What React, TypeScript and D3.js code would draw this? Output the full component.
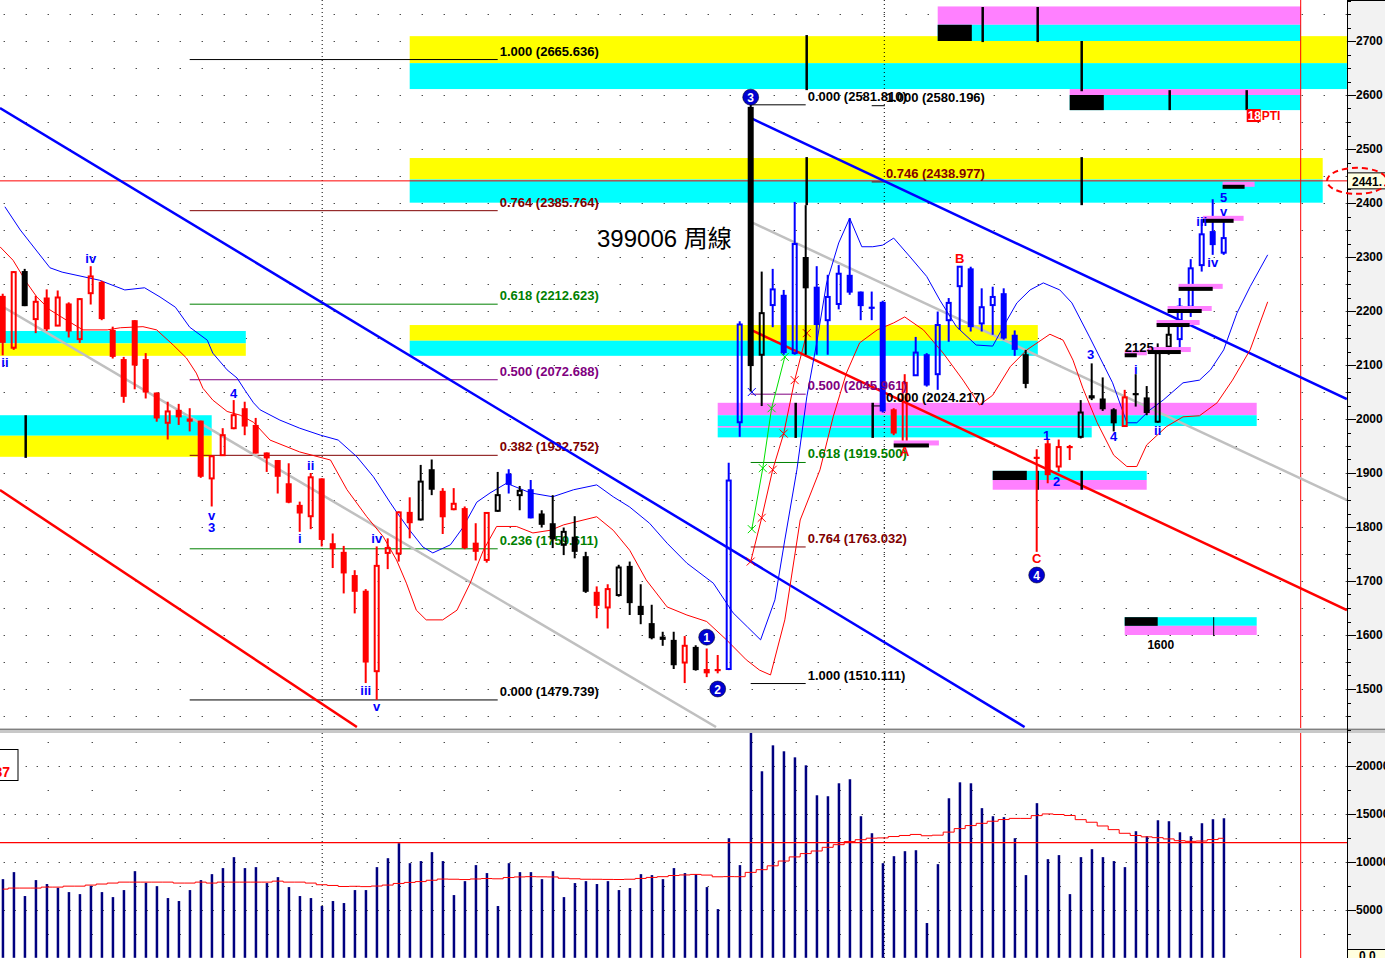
import React from "react";
import * as d3 from "d3";

// ---------- DATA (weekly bars, index 0..111) ----------
const opens = [2228,2132,2274,2185,2225,2173,2214,2148,2233,2254,2165,2111,2183,2111,2049,1993,2017,2001,1997,1890,1933,1983,2020,1989,1938,1924,1881,1841,1820,1890,1770,1754,1711,1682,1533,1752,1751,1828,1814,1907,1867,1833,1835,1771,1739,1830,1899,1859,1870,1825,1807,1767,1782,1746,1680,1651,1674,1728,1654,1622,1597,1591,1549,1578,1537,1537,1537,1994,2578,2119,2211,2230,2122,2300,2245,2183,2213,2267,2236,2208,2217,2018,1954,2081,2120,2083,2183,2246,2279,2177,2211,2233,2156,2120,1930,1955,1912,1950,1967,2044,2038,2018,1987,2048,2040,1995,2134,2148,2208,2285,2348,2308];
const highs = [2232,2274,2278,2228,2240,2238,2216,2224,2283,2256,2171,2115,2183,2122,2049,2032,2028,2020,1997,1931,1983,2035,2032,2002,1938,1924,1918,1847,1900,1890,1788,1765,1720,1685,1764,1779,1829,1855,1915,1925,1872,1872,1838,1807,1827,1902,1907,1876,1887,1831,1859,1799,1820,1754,1690,1694,1730,1736,1694,1656,1606,1606,1598,1581,1575,1563,1919,2181,2582,2273,2278,2239,2402,2396,2283,2267,2285,2372,2236,2236,2219,2020,2083,2152,2122,2199,2224,2283,2282,2242,2245,2242,2164,2128,1944,1961,1962,1952,2035,2103,2077,2020,2054,2083,2061,2140,2178,2224,2296,2370,2407,2372];
const lows = [2118,2128,2209,2159,2163,2172,2151,2141,2212,2183,2112,2030,2055,2038,1995,1962,1989,1977,1891,1838,1933,1981,1970,1936,1902,1862,1844,1791,1796,1764,1724,1677,1640,1511,1480,1722,1736,1779,1812,1859,1787,1831,1759,1738,1734,1828,1862,1831,1816,1799,1761,1748,1742,1678,1631,1612,1671,1637,1620,1592,1580,1537,1511,1534,1522,1529,1535,1967,2051,2024,2170,2119,2119,2119,2119,2119,2203,2230,2183,2183,2012,1970,1950,2080,2060,2054,2143,2165,2162,2162,2156,2147,2117,2057,1754,1881,1902,1924,1964,2035,2015,1977,1986,2023,2007,1993,2119,2128,2189,2273,2304,2304];
const closes = [2141,2272,2209,2217,2166,2225,2162,2222,2264,2185,2115,2041,2099,2049,2001,2014,2003,1995,1893,1931,1970,2007,1986,1936,1927,1893,1845,1825,1892,1776,1759,1714,1680,1549,1728,1761,1827,1807,1884,1869,1818,1843,1761,1754,1826,1859,1878,1867,1816,1804,1777,1791,1754,1680,1654,1685,1725,1659,1637,1594,1591,1544,1580,1535,1529,1533,1886,2175,2098,2196,2240,2122,2324,2242,2174,2226,2269,2234,2209,2204,2014,1973,2067,2123,2062,2174,2215,2282,2170,2207,2226,2149,2128,2065,1926,1896,1948,1946,2012,2038,2018,1992,2040,2044,2011,2122,2156,2208,2279,2342,2322,2335];
const candleColor = ("rrkrrrrrrr" + "rrrrrrrrrr" + "rrrrrrrrrr" + "rrrrrrrrkk" + "rrrrrkbkbk" +
  "kkkkrrkkkk" + "kkrkrrbbkk" + "bbbkbbbbbb" + "brrbbbbbbb" + "bbbkrrrrkk" + "kkrkkkkbbb" + "bb").split("");

const volumes = [8190,8920,6430,8090,7680,7290,6840,6630,7500,6840,6320,7050,9020,7810,7460,6220,5910,7050,8090,8710,9340,10480,9340,9440,7780,8400,7360,6430,6220,5390,5910,5700,7050,7050,9440,10370,11930,9850,10070,11000,10070,6530,7980,9650,8820,5390,9850,8920,8920,8190,9020,6320,7780,7980,7680,7980,7050,7260,8710,8610,8190,9340,8820,8710,7360,5070,12450,9650,23500,19420,22120,21500,20870,20040,16920,16820,18170,18590,14740,12970,9850,10580,11100,11200,3620,9750,16610,18270,18170,15580,14740,14640,12450,8610,16100,10270,10690,6630,10480,11310,10480,10070,9440,13180,12660,14320,14220,13070,12660,14010,14430,14530];
// 30-week volume average as read for the first weeks (earlier data not on the chart)
const volMaHead = [7150,7260,7260,7260,7360,7360,7460,7460,7570,7680,7780,7880,7880,7880,7880,7880,7780,7780,7880,7780,7880,7880,7880,7880,7880,7980,7880,7880,7780];
const volRefLevel = 12000;

// displaced envelope lines, read as [week, price]
const blueBandPts = [[0.2,2393],[1.6,2350],[4.3,2280],[5.4,2272],[8.8,2257],[11.1,2239],[12.9,2243],[14.3,2226],[15.7,2207],[17,2170],[18.6,2146],[19.1,2122],[20.4,2091],[21.3,2076],[22,2054],[22.8,2030],[23.4,2017],[25.2,1998],[27,1983],[28.9,1970],[30.5,1961],[32.2,1930],[33.7,1893],[35.2,1846],[35.8,1828],[37,1794],[38.2,1763],[39.1,1752],[40.7,1767],[41.8,1798],[43.1,1846],[44.3,1863],[45.8,1881],[48,1863],[50,1856],[51.9,1869],[54,1878],[55.5,1856],[57,1837],[58.8,1807],[60.4,1770],[62.2,1733],[64.6,1696],[66.4,1641],[67.7,1615],[68.9,1591],[70.2,1665],[71.1,1776],[72.2,1906],[73.1,2041],[74,2141],[74.9,2252],[76,2326],[77,2372],[78.1,2319],[79.1,2319],[80,2322],[81,2335],[82.5,2300],[84,2264],[85.2,2220],[86.7,2171],[88.5,2137],[90,2135],[91.3,2183],[92.2,2215],[93.4,2239],[94.6,2252],[96.1,2239],[97.2,2215],[98.8,2152],[100.9,2067],[102.2,1993],[103.1,1993],[104.3,2017],[105.5,2035],[107.3,2067],[108.8,2072],[109.8,2091],[111,2128],[112.2,2196],[113.4,2245],[115,2304]];
const redBandPts = [[-0.25,2319],[0.94,2294],[2.2,2252],[3.1,2226],[4.3,2202],[5.8,2183],[7.3,2165],[9.5,2165],[10.7,2169],[12.75,2171],[14,2165],[15.5,2137],[16.7,2113],[17.6,2085],[18.2,2057],[19.1,2035],[20.4,2014],[21.6,2007],[22.8,1994],[24.3,1961],[27,1939],[29.8,1924],[31.3,1869],[33.1,1819],[34.6,1782],[35.8,1739],[36.7,1696],[37.6,1646],[38.5,1628],[40,1628],[41.3,1646],[42.5,1696],[43.7,1757],[44.9,1801],[46.7,1801],[48.2,1789],[49.8,1794],[51,1804],[54,1819],[55.5,1794],[57,1757],[58.5,1702],[60.4,1652],[62.2,1637],[64,1625],[65.8,1591],[67.6,1554],[68.8,1535],[69.8,1526],[71.1,1628],[72.5,1813],[74.3,1906],[75.5,2004],[76.7,2085],[77.9,2141],[79.5,2165],[81,2178],[82,2189],[83.7,2165],[85.5,2122],[87.3,2072],[88.8,2026],[90,2044],[91.6,2097],[93.1,2128],[95.2,2157],[96.4,2146],[97.3,2109],[98.2,2057],[99.5,1993],[101,1933],[102.2,1912],[103.1,1912],[104,1952],[105.8,1986],[107.3,2004],[108.8,2006],[110.4,2030],[111.8,2072],[113.4,2128],[115,2217]];

// trend lines [week0, price0, week1, price1, colour]
const trendLines = [
  [-0.25, 2576, 92.9, 1429.6, "#0000ff"],
  [68.03, 2557, 122.2, 2037, "#0000ff"],
  [-0.25, 1868.5, 32.2, 1429.6, "#ff0000"],
  [68.03, 2165, 122.2, 1646, "#ff0000"],
  [-0.25, 2211, 64.85, 1429.6, "#c0c0c0"],
  [68.2, 2363, 122.2, 1850, "#c0c0c0"],
];

// fibonacci sets
const fibLeftRatios = ["1.000","0.764","0.618","0.500","0.382","0.236","0.000"];
const fibLeftValues = [2665.636,2385.764,2212.623,2072.688,1932.752,1759.611,1479.739];
const fibLeftColors = ["#000000","#800000","#008000","#800080","#800000","#008000","#000000"];
const fibMidRatios = ["0.000","0.500","0.618","0.764","1.000"];
const fibMidValues = [2581.81,2045.961,1919.5,1763.032,1510.111];
const fibMidColors = ["#000000","#800080","#008000","#800000","#000000"];
const fibProjRatios = ["1.000","0.746","0.000"];
const fibProjValues = [2580.196,2438.977,2024.217];
const fibProjColors = ["#000000","#800000","#000000"];

// zone bands [week0, week1, priceTop, priceBottom, colour]
const zoneBands = [
  [37, 122.2, 2709, 2659, "#ffff00"], [37, 122.2, 2659, 2611, "#00ffff"],
  [85, 118, 2764, 2730, "#ff80ff"], [85, 118, 2730, 2700, "#00ffff"], [85, 88.1, 2730, 2700, "#000000"],
  [97, 118, 2611, 2600, "#ff80ff"], [97, 118, 2600, 2572, "#00ffff"], [97, 100.1, 2600, 2572, "#000000"],
  [37, 120, 2483.3, 2443.5, "#ffff00"], [37, 120, 2443.5, 2400.6, "#00ffff"],
  [37, 94.1, 2174, 2145, "#ffff00"], [37, 94.1, 2145, 2117, "#00ffff"],
  [-1, 22.1, 2163, 2140, "#00ffff"], [-1, 22.1, 2140, 2117, "#ffff00"],
  [-1, 19, 2007, 1969, "#00ffff"], [-1, 19, 1969, 1930, "#ffff00"],
  [65, 114, 2030, 2007, "#ff80ff"], [65, 114, 2007, 1987, "#00ffff"],
  [65, 99, 1987, 1984, "#ff80ff"], [65, 99, 1984, 1966, "#00ffff"],
  [90, 104, 1904, 1887, "#00ffff"], [90, 104, 1887, 1869, "#ff80ff"], [90, 93.1, 1904, 1887, "#000000"],
  [102, 114, 1633, 1617, "#00ffff"], [102, 114, 1617, 1600, "#ff80ff"], [102, 105, 1633, 1617, "#000000"],
];
// black time markers [week, priceTop, priceBottom]
const markerBars = [
  [73, 2711, 2609], [73, 2485, 2396], [98, 2700, 2607], [98, 2485, 2396],
  [89, 2763, 2698], [94, 2763, 2698], [106, 2609, 2572], [113, 2609, 2572],
  [2, 2007, 1928], [72, 2030, 1965], [79, 2030, 1965], [94, 1904, 1869], [98, 1904, 1869],
];
// black step bars with pink shadow [week0, week1, price]
const levelBars = [
  [81.0, 84.2, 1951], [102, 103.1, 2118], [104.1, 107.1, 2124], [104.9, 107.9, 2174],
  [105.9, 109, 2200], [106.9, 110, 2241], [109.1, 111.9, 2367], [110.9, 112.9, 2430],
];

// wave labels [text, week, price, colour]
const waveLabels = [
  ["ii", 0.2, 2105, "#0000ff"], ["iv", 8, 2298, "#0000ff"], ["4", 21, 2048, "#0000ff"],
  ["v", 19, 1822, "#0000ff"], ["3", 19, 1800, "#0000ff"], ["ii", 28, 1913, "#0000ff"],
  ["i", 27, 1778, "#0000ff"], ["iv", 34, 1778, "#0000ff"], ["iii", 33, 1498, "#0000ff"],
  ["v", 34, 1467, "#0000ff"], ["1", 94.9, 1970, "#0000ff"], ["2", 95.8, 1885, "#0000ff"],
  ["3", 98.9, 2119, "#0000ff"], ["4", 101, 1967, "#0000ff"], ["i", 103, 2091, "#0000ff"],
  ["ii", 105, 1978, "#0000ff"], ["iii", 109, 2365, "#0000ff"], ["iv", 110, 2289, "#0000ff"],
  ["5", 111, 2411, "#0000ff"], ["v", 111, 2385, "#0000ff"],
  ["B", 87, 2298, "#ff0000"], ["A", 82, 1939, "#ff0000"], ["C", 94, 1741, "#ff0000"],
];
const circleLabels = [["1", 64, 1596], ["2", 65, 1500], ["3", 68, 2596], ["4", 94, 1711]];
const greenFanPts = [[68.1, 1796], [69.1, 1909], [69.9, 2020], [71.1, 2115]];
const redFanPts = [[68, 1736], [69, 1817], [70, 1906], [71, 1973], [72, 2072], [73.1, 2159]];

const priceTicks = [1500,1600,1700,1800,1900,2000,2100,2200,2300,2400,2500,2600,2700];
const volTicks = [5000,10000,15000,20000];
const lastPriceLabel = "2441.";
const titleText = "399006 周線";

const FONT = "'Liberation Sans', Arial, sans-serif";
const COL: Record<string, string> = { r: "#ff0000", k: "#000000", b: "#0000ff" };

export default function App() {
  const x = d3.scaleLinear().domain([0, 111]).range([2.7, 1223.7]);
  const y = d3.scaleLinear().domain([1500, 2700]).range([689, 41]);
  const yv = d3.scaleLinear().domain([0, 20000]).range([957.8, 765.7]);
  const AX = 1347;

  const line = d3.line<number[]>().x(d => x(d[0])).y(d => y(d[1]));
  const volMA = volumes.map((v, i) => i < volMaHead.length ? volMaHead[i] : (d3.mean(volumes.slice(i - 29, i + 1)) as number));
  const volLine = d3.line<number>().x((d, i) => x(i)).y(d => yv(d)).curve(d3.curveStep);

  const dots: JSX.Element[] = [];
  for (let p = 1450; p <= 2750; p += 50) {
    for (let k = 0; k < 62; k++) dots.push(<rect key={`d${p}-${k}`} x={3.7 + 22 * k} y={Math.round(y(p))} width={1} height={1} fill="#000" />);
  }
  const vdots: JSX.Element[] = [];
  for (let v = 2500; v <= 22500; v += 2500) {
    const dense = v % 5000 === 0;
    const step = dense ? 11 : 44;
    const start = dense ? 3.7 : 47.7;
    for (let xx = start; xx < AX; xx += step) vdots.push(<rect key={`v${v}-${xx}`} x={xx} y={Math.round(yv(v))} width={1} height={1} fill="#000" />);
  }

  const minorTicks: number[] = [];
  for (let p = 1425; p <= 2775; p += 25) minorTicks.push(p);
  const volMinor: number[] = [];
  for (let v = 0; v <= 22500; v += 2500) volMinor.push(v);

  const xMark = (cx: number, cy: number, col: string, key: string) => (
    <g key={key} stroke={col} strokeWidth={1}>
      <line x1={cx - 4} y1={cy - 4} x2={cx + 4} y2={cy + 4} />
      <line x1={cx - 4} y1={cy + 4} x2={cx + 4} y2={cy - 4} />
    </g>
  );

  return (
    <div style={{ position: "fixed", left: 0, top: 0, width: 1385, height: 958, background: "#fff" }}>
      <svg width={1385} height={958} style={{ display: "block" }} fontFamily={FONT}>
        <defs>
          <clipPath id="mainClip"><rect x={0} y={0} width={AX} height={728} /></clipPath>
          <clipPath id="volClip"><rect x={0} y={733} width={AX} height={225} /></clipPath>
        </defs>

        {/* ---------- MAIN PANEL ---------- */}
        <g clipPath="url(#mainClip)">
          <g>{dots}</g>
          {zoneBands.map((b, i) => (
            <rect key={`zb${i}`} x={x(b[0] as number)} y={y(b[2] as number)} width={x(b[1] as number) - x(b[0] as number)}
              height={y(b[3] as number) - y(b[2] as number)} fill={b[4] as string} />
          ))}
          {/* dotted period separators */}
          {[29, 80.1].map((w, i) => (
            <line key={`sep${i}`} x1={x(w) + 0.5} x2={x(w) + 0.5} y1={0} y2={728} stroke="#000" strokeDasharray="1,3" />
          ))}
          {/* last price line */}
          <line x1={0} x2={AX} y1={y(2441)} y2={y(2441)} stroke="#ff0000" strokeWidth={1} />
          {/* red vertical marker */}
          <line x1={x(118)} x2={x(118)} y1={0} y2={728} stroke="#ff0000" strokeWidth={1} />

          {/* fib left */}
          {fibLeftValues.map((v, i) => (
            <g key={`fl${i}`}>
              <line x1={x(17)} x2={x(45)} y1={y(v)} y2={y(v)} stroke={fibLeftColors[i]} strokeWidth={1} />
              <text x={x(45) + 2} y={y(v) - 4} fontSize={13} fontWeight="bold" fill={fibLeftColors[i]}>{`${fibLeftRatios[i]} (${v.toFixed(3)})`}</text>
            </g>
          ))}
          {/* fib mid */}
          {fibMidValues.map((v, i) => (
            <g key={`fm${i}`}>
              <line x1={x(68)} x2={x(73)} y1={y(v)} y2={y(v)} stroke={fibMidColors[i]} strokeWidth={1} />
            </g>
          ))}
          {fibProjValues.map((v, i) => (
            <line key={`fpl${i}`} x1={x(79)} x2={x(80.2)} y1={y(v)} y2={y(v)} stroke={fibProjColors[i]} strokeWidth={1} />
          ))}

          {/* trend lines */}
          {trendLines.map((t, i) => (
            <line key={`tl${i}`} x1={x(t[0] as number)} y1={y(t[1] as number)} x2={x(t[2] as number)} y2={y(t[3] as number)}
              stroke={t[4] as string} strokeWidth={2.5} />
          ))}

          {/* envelopes */}
          <path d={line(blueBandPts) || ""} fill="none" stroke="#0000ff" strokeWidth={1} />
          <path d={line(redBandPts) || ""} fill="none" stroke="#ff0000" strokeWidth={1} />

          {/* fan lines */}
          <path d={line(greenFanPts) || ""} fill="none" stroke="#00e000" strokeWidth={1} />
          <path d={line(redFanPts) || ""} fill="none" stroke="#ff0000" strokeWidth={1} />
          {greenFanPts.map((p, i) => xMark(x(p[0]), y(p[1]), "#00e000", `gx${i}`))}
          {redFanPts.map((p, i) => xMark(x(p[0]), y(p[1]), "#ff0000", `rx${i}`))}
          {xMark(x(68.1), y(2050), "#0000ff", "bx")}

          {/* markers */}
          {markerBars.map((m, i) => (
            <line key={`mk${i}`} x1={x(m[0]) + 1} x2={x(m[0]) + 1} y1={y(m[1])} y2={y(m[2])} stroke="#000" strokeWidth={2.5} />
          ))}
          <line x1={x(110) + 1} x2={x(110) + 1} y1={y(1633)} y2={y(1598)} stroke="#000" strokeWidth={1} />

          {/* candles */}
          {opens.map((o, i) => {
            const c = closes[i], h = highs[i], l = lows[i];
            const col = COL[candleColor[i]];
            const cx = x(i);
            const top = y(Math.max(o, c)), bot = y(Math.min(o, c));
            const up = c > o;
            const bh = Math.max(bot - top, 2);
            return (
              <g key={`c${i}`}>
                {up ? (
                  <>
                    <line x1={cx} x2={cx} y1={y(h)} y2={top} stroke={col} strokeWidth={2} />
                    <line x1={cx} x2={cx} y1={top + bh} y2={y(l)} stroke={col} strokeWidth={2} />
                    <rect x={cx - 2} y={top} width={4} height={bh} fill="none" stroke={col} strokeWidth={2} />
                  </>
                ) : (
                  <>
                    <line x1={cx} x2={cx} y1={y(h)} y2={y(l)} stroke={col} strokeWidth={2} />
                    <rect x={cx - 3} y={top} width={6} height={bh} fill={col} />
                  </>
                )}
              </g>
            );
          })}

          {/* step level bars */}
          {levelBars.map((b, i) => (
            <g key={`lb${i}`}>
              <rect x={x(b[0])} y={y(b[2]) - 5} width={x(b[1]) - x(b[0]) + 10} height={5} fill="#ff80ff" />
              <rect x={x(b[0])} y={y(b[2]) - 2} width={x(b[1]) - x(b[0])} height={4} fill="#000" />
            </g>
          ))}

          {/* fib labels on top */}
          {fibMidValues.map((v, i) => (
            <text key={`fmt${i}`} x={x(73) + 2} y={y(v) - 4} fontSize={13} fontWeight="bold" fill={fibMidColors[i]}>{`${fibMidRatios[i]} (${v.toFixed(3)})`}</text>
          ))}
          {fibProjValues.map((v, i) => (
            <text key={`fpt${i}`} x={x(80.2) + 1} y={y(v) - 4} fontSize={13} fontWeight="bold" fill={fibProjColors[i]}>{`${fibProjRatios[i]} (${v.toFixed(3)})`}</text>
          ))}

          {/* title */}
          <text x={597} y={247} fontSize={24} fill="#000" fontFamily="'Liberation Sans', 'Noto Sans CJK TC', sans-serif">{titleText}</text>

          {/* level texts */}
          <text x={x(102)} y={y(2118) - 3} fontSize={13} fontWeight="bold" fill="#000">2125</text>
          <text x={x(104.1) + 13} y={y(1600) + 14} fontSize={12} fontWeight="bold" fill="#000" textAnchor="middle">1600</text>
          <rect x={x(113) + 1} y={y(2574)} width={14} height={13} fill="#ff0000" />
          <text x={x(113) + 2} y={y(2574) + 11} fontSize={12} fontWeight="bold" fill="#fff">18</text>
          <text x={x(113) + 16} y={y(2574) + 11} fontSize={12} fontWeight="bold" fill="#ff0000">PTI</text>

          {/* wave labels */}
          {waveLabels.map((w, i) => (
            <text key={`wl${i}`} x={x(w[1] as number)} y={y(w[2] as number)} fontSize={13} fontWeight="bold"
              fill={w[3] as string} textAnchor="middle" dominantBaseline="central">{w[0] as string}</text>
          ))}
          {circleLabels.map((c, i) => (
            <g key={`cl${i}`}>
              <circle cx={x(c[1] as number)} cy={y(c[2] as number)} r={8} fill="#0000d0" stroke="#000" strokeWidth={0.5} />
              <text x={x(c[1] as number)} y={y(c[2] as number) + 0.5} fontSize={12} fontWeight="bold" fill="#fff"
                textAnchor="middle" dominantBaseline="central">{c[0] as string}</text>
            </g>
          ))}
        </g>

        {/* panel separator */}
        <rect x={0} y={728} width={1385} height={5} fill="#c8c8c8" />
        <line x1={0} x2={1385} y1={729.5} y2={729.5} stroke="#808080" />

        {/* ---------- VOLUME PANEL ---------- */}
        <g clipPath="url(#volClip)">
          <g>{vdots}</g>
          <line x1={x(29) + 0.5} x2={x(29) + 0.5} y1={733} y2={958} stroke="#000" strokeDasharray="1,3" />
          <line x1={x(80.1) + 0.5} x2={x(80.1) + 0.5} y1={733} y2={958} stroke="#000" strokeDasharray="1,3" />
          {volumes.map((v, i) => (
            <rect key={`vb${i}`} x={x(i) - 1} y={yv(v)} width={2.5} height={yv(0) - yv(v)} fill="#000080" />
          ))}
          <line x1={0} x2={AX} y1={yv(volRefLevel)} y2={yv(volRefLevel)} stroke="#ff0000" strokeWidth={1.2} />
          <path d={volLine(volMA) || ""} fill="none" stroke="#ff0000" strokeWidth={1} />
          <line x1={x(118)} x2={x(118)} y1={733} y2={958} stroke="#ff0000" strokeWidth={1} />
          <rect x={-2} y={749.5} width={20} height={31} fill="#fff" stroke="#000" strokeWidth={1} />
          <text x={10} y={777} fontSize={14} fontWeight="bold" fill="#ff0000" textAnchor="end">37</text>
        </g>

        {/* ---------- RIGHT AXIS ---------- */}
        <rect x={AX} y={0} width={1385 - AX} height={728} fill="#f2f2f2" />
        <rect x={AX} y={733} width={1385 - AX} height={225} fill="#f2f2f2" />
        <line x1={AX + 0.5} x2={AX + 0.5} y1={0} y2={958} stroke="#000" />
        <line x1={AX} x2={1385} y1={0.5} y2={0.5} stroke="#000" />
        {minorTicks.map(p => (
          <line key={`mt${p}`} x1={AX} x2={AX + 4} y1={Math.round(y(p)) + 0.5} y2={Math.round(y(p)) + 0.5} stroke="#000" />
        ))}
        {priceTicks.map(p => (
          <g key={`pt${p}`}>
            <line x1={AX} x2={AX + 9} y1={Math.round(y(p)) + 0.5} y2={Math.round(y(p)) + 0.5} stroke="#000" />
            <text x={AX + 9} y={y(p)} fontSize={12} fontWeight="bold" fill="#000" dominantBaseline="central">{p}</text>
          </g>
        ))}
        {volMinor.map(v => (
          <line key={`vm${v}`} x1={AX} x2={AX + 4} y1={Math.round(yv(v)) + 0.5} y2={Math.round(yv(v)) + 0.5} stroke="#000" />
        ))}
        {volTicks.map(v => (
          <g key={`vt${v}`}>
            <line x1={AX} x2={AX + 9} y1={Math.round(yv(v)) + 0.5} y2={Math.round(yv(v)) + 0.5} stroke="#000" />
            <text x={AX + 9} y={yv(v)} fontSize={12} fontWeight="bold" fill="#000" dominantBaseline="central">{v}</text>
          </g>
        ))}
        <rect x={AX + 0.5} y={949.5} width={40} height={12} fill="#ffffe0" stroke="#000" />
        <text x={AX + 12} y={960} fontSize={12} fontWeight="bold" fill="#000">0.0</text>

        {/* last price box */}
        <rect x={AX + 0.5} y={y(2441) - 8} width={40} height={16} fill="#ffffe1" stroke="#000" />
        <text x={AX + 5} y={y(2441) + 1} fontSize={12} fontWeight="bold" fill="#000" dominantBaseline="central">{lastPriceLabel}</text>
        <ellipse cx={1357} cy={y(2441)} rx={30} ry={13} fill="none" stroke="#ff0000" strokeWidth={2} strokeDasharray="6,4" />
      </svg>
    </div>
  );
}
